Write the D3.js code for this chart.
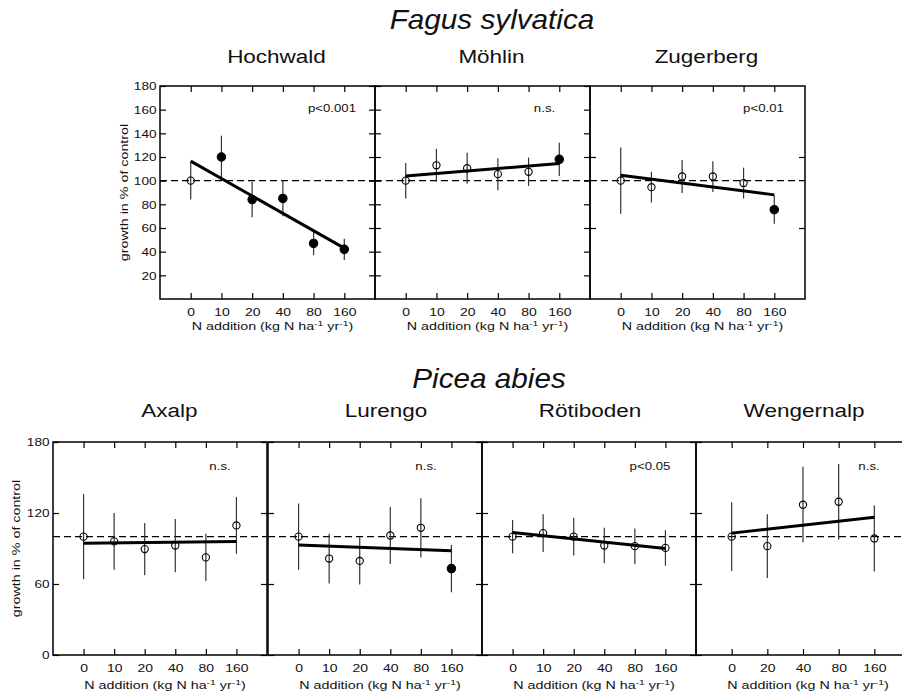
<!DOCTYPE html>
<html><head><meta charset="utf-8">
<script src="https://cdn.jsdelivr.net/npm/d3@7"></script>
<style>body{margin:0;background:#fff} svg{display:block}</style>
</head><body><svg id="chart" width="902" height="699"></svg>
<script>
// ---------------- DATA ----------------
const fagusTitle = "Fagus sylvatica";
const piceaTitle = "Picea abies";
const fagusSites = ["Hochwald", "Möhlin", "Zugerberg"];
const piceaSites = ["Axalp", "Lurengo", "Rötiboden", "Wengernalp"];

const nLevels = ["0", "10", "20", "40", "80", "160"];
const wengernalpLevels = ["0", "20", "40", "80", "160"];

// Fagus sylvatica (growth in % of control, mean and error)
const hochwaldMean = [100, 120, 84, 85, 47, 42];
const hochwaldErr = [16, 18, 15, 15, 10, 9];
const hochwaldFilled = [false, true, true, true, true, true];
const hochwaldFit = [116.5, 43];

const mohlinMean = [100, 113, 110.5, 105.5, 107.5, 118];
const mohlinErr = [15, 14, 13, 13.5, 12, 14];
const mohlinFilled = [false, false, false, false, false, true];
const mohlinFit = [104, 114.5];

const zugerbergMean = [100, 94.5, 103.5, 103.5, 98, 75.5];
const zugerbergErr = [28, 13, 14, 13, 13, 12];
const zugerbergFilled = [false, false, false, false, false, true];
const zugerbergFit = [104.5, 88];

// Picea abies
const axalpMean = [100, 96, 89.5, 92.5, 82.5, 109.5];
const axalpErr = [36, 24, 22, 22.5, 20, 24];
const axalpFilled = [false, false, false, false, false, false];
const axalpFit = [94.5, 96];

const lurengoMean = [100, 81.5, 79.5, 101, 107.5, 73];
const lurengoErr = [28, 21, 20, 24, 25, 20];
const lurengoFilled = [false, false, false, false, false, true];
const lurengoFit = [93, 88];

const rotibodenMean = [100, 103, 100, 92.5, 92, 90.5];
const rotibodenErr = [14, 16, 16, 15, 15, 15];
const rotibodenFilled = [false, false, false, false, false, false];
const rotibodenFit = [103.5, 90];

const wengernalpMean = [100, 92, 127, 129.5, 98.5];
const wengernalpErr = [29, 27, 32, 32, 28];
const wengernalpFilled = [false, false, false, false, false];
const wengernalpFit = [103, 116.5];

const fagusPLabels = ["p<0.001", "n.s.", "p<0.01"];
const piceaPLabels = ["n.s.", "n.s.", "p<0.05", "n.s."];

const yDomain = [0, 180];
const controlLevel = 100;
const fagusYTicksFine = [20, 40, 60, 80, 100, 120, 140, 160, 180];
const fagusYTicksCoarse = [60, 120];
const piceaYTicks = [0, 60, 120, 180];

const yAxisTitle = "growth in % of control";

// ---------------- LAYOUT ----------------
const FONT = '"Liberation Sans", Arial, Helvetica, sans-serif';
const INK = "#111";
const rows = [
  {
    title: fagusTitle, sites: fagusSites, pLabels: fagusPLabels,
    levels: [nLevels, nLevels, nLevels],
    means: [hochwaldMean, mohlinMean, zugerbergMean],
    errs: [hochwaldErr, mohlinErr, zugerbergErr],
    filled: [hochwaldFilled, mohlinFilled, zugerbergFilled],
    fits: [hochwaldFit, mohlinFit, zugerbergFit],
    yTicks: [fagusYTicksFine, fagusYTicksFine, fagusYTicksCoarse],
    labelTicks: fagusYTicksFine,
    L: { lefts: [160, 375, 590], width: 215, top: 86, bottom: 299,
         titleX: 492, titleY: 29, siteY: 63, siteDx: [9, 9, 9],
         pX: [332, 544.5, 763.5], pY: 111.5, tickPad: 9.5,
         axisTitleY: 330, axisTitleDx: 5, yLabelX: 128 }
  },
  {
    title: piceaTitle, sites: piceaSites, pLabels: piceaPLabels,
    levels: [nLevels, nLevels, nLevels, wengernalpLevels],
    means: [axalpMean, lurengoMean, rotibodenMean, wengernalpMean],
    errs: [axalpErr, lurengoErr, rotibodenErr, wengernalpErr],
    filled: [axalpFilled, lurengoFilled, rotibodenFilled, wengernalpFilled],
    fits: [axalpFit, lurengoFit, rotibodenFit, wengernalpFit],
    yTicks: [piceaYTicks, piceaYTicks, piceaYTicks, piceaYTicks],
    labelTicks: piceaYTicks,
    L: { lefts: [53, 268, 482, 696], width: 214, top: 442, bottom: 655,
         titleX: 489, titleY: 388, siteY: 417, siteDx: [9.5, 11, 1, 1],
         pX: [220, 426, 650, 869], pY: 470, tickPad: 9.5,
         axisTitleY: 689, axisTitleDx: 5, yLabelX: 20 }
  }
];

const svg = d3.select("#chart");
svg.append("rect").attr("width", 902).attr("height", 699).attr("fill", "#fff");

function styleAxis(g, fs, sx) {
  g.attr("font-family", FONT).attr("font-size", fs);
  g.select(".domain").remove();
  g.selectAll(".tick line").attr("stroke", "#000").attr("stroke-width", 1.2);
  g.selectAll(".tick text").attr("fill", INK).attr("transform", `scale(${sx},1)`);
}

rows.forEach(row => {
  const L = row.L;
  // species title
  svg.append("text")
    .attr("transform", `translate(${L.titleX},${L.titleY}) scale(1.1,1)`)
    .attr("text-anchor", "middle").attr("font-family", FONT)
    .attr("font-size", 27).attr("font-style", "italic").attr("fill", INK)
    .text(row.title);

  row.sites.forEach((site, i) => {
    const left = L.lefts[i], right = left + L.width;
    const levels = row.levels[i];
    const x = d3.scalePoint().domain(levels).range([left, right]).padding(1);
    const y = d3.scaleLinear().domain(yDomain).range([L.bottom, L.top]);
    const g = svg.append("g");

    // site title
    g.append("text")
      .attr("transform", `translate(${(left + right) / 2 + L.siteDx[i]},${L.siteY}) scale(1.25,1)`)
      .attr("text-anchor", "middle").attr("font-family", FONT)
      .attr("font-size", 18).attr("fill", INK).text(site);

    // control dashed line
    g.append("line")
      .attr("x1", left).attr("x2", right)
      .attr("y1", y(controlLevel)).attr("y2", y(controlLevel))
      .attr("stroke", "#000").attr("stroke-width", 1.3).attr("stroke-dasharray", "7,4");

    // axes
    const bottomAx = g.append("g").attr("transform", `translate(0,${L.bottom})`)
      .call(d3.axisBottom(x).tickSizeInner(-6).tickSizeOuter(0).tickPadding(L.tickPad));
    styleAxis(bottomAx, 11, 1.27);
    const topAx = g.append("g").attr("transform", `translate(0,${L.top})`)
      .call(d3.axisTop(x).tickSizeInner(-6).tickSizeOuter(0).tickFormat(""));
    styleAxis(topAx, 11, 1);
    const leftAx = g.append("g").attr("transform", `translate(${left},0)`)
      .call(d3.axisLeft(y).tickValues(i === 0 ? row.labelTicks : row.yTicks[i])
        .tickSizeInner(-6).tickSizeOuter(0).tickPadding(3)
        .tickFormat(i === 0 ? d3.format("d") : ""));
    styleAxis(leftAx, 11.5, 1.18);
    const rightAx = g.append("g").attr("transform", `translate(${right},0)`)
      .call(d3.axisRight(y).tickValues(row.yTicks[i]).tickSizeInner(-6).tickSizeOuter(0).tickFormat(""));
    styleAxis(rightAx, 11, 1);

    // frame
    g.append("rect").attr("x", left).attr("y", L.top)
      .attr("width", L.width).attr("height", L.bottom - L.top)
      .attr("fill", "none").attr("stroke", "#000").attr("stroke-width", 1.5);

    // x axis title
    const t = g.append("text")
      .attr("transform", `translate(${(left + right) / 2 + L.axisTitleDx},${L.axisTitleY}) scale(1.3,1)`)
      .attr("text-anchor", "middle").attr("font-family", FONT)
      .attr("font-size", 11).attr("fill", INK);
    t.append("tspan").text("N addition (kg N ha");
    t.append("tspan").attr("dy", -4).attr("font-size", 8).text("-1");
    t.append("tspan").attr("dy", 4).text(" yr");
    t.append("tspan").attr("dy", -4).attr("font-size", 8).text("-1");
    t.append("tspan").attr("dy", 4).text(")");

    // p-value label
    g.append("text")
      .attr("transform", `translate(${L.pX[i]},${L.pY}) scale(1.15,1)`)
      .attr("text-anchor", "middle").attr("font-family", FONT)
      .attr("font-size", 11.5).attr("fill", INK).text(row.pLabels[i]);

    const pts = levels.map((lv, k) => ({ lv, m: row.means[i][k], e: row.errs[i][k], f: row.filled[i][k] }));

    // error bars
    g.selectAll(".err").data(pts).join("line")
      .attr("x1", d => x(d.lv)).attr("x2", d => x(d.lv))
      .attr("y1", d => y(d.m - d.e)).attr("y2", d => y(d.m + d.e))
      .attr("stroke", "#333").attr("stroke-width", 1.2);

    // regression line
    g.append("line")
      .attr("x1", x(levels[0])).attr("x2", x(levels[levels.length - 1]))
      .attr("y1", y(row.fits[i][0])).attr("y2", y(row.fits[i][1]))
      .attr("stroke", "#000").attr("stroke-width", 3);

    // points
    g.selectAll(".pt").data(pts).join("circle")
      .attr("cx", d => x(d.lv)).attr("cy", d => y(d.m))
      .attr("r", d => d.f ? 4.2 : 3.6)
      .attr("fill", d => d.f ? "#000" : "none")
      .attr("stroke", "#000").attr("stroke-width", 1.1);
  });

  // y axis title
  const midY = (L.top + L.bottom) / 2;
  svg.append("text")
    .attr("transform", `translate(${L.yLabelX},${midY}) rotate(-90) scale(1.3,1)`)
    .attr("text-anchor", "middle").attr("font-family", FONT)
    .attr("font-size", 11).attr("fill", INK).text(yAxisTitle);
});
</script>
</body></html>
